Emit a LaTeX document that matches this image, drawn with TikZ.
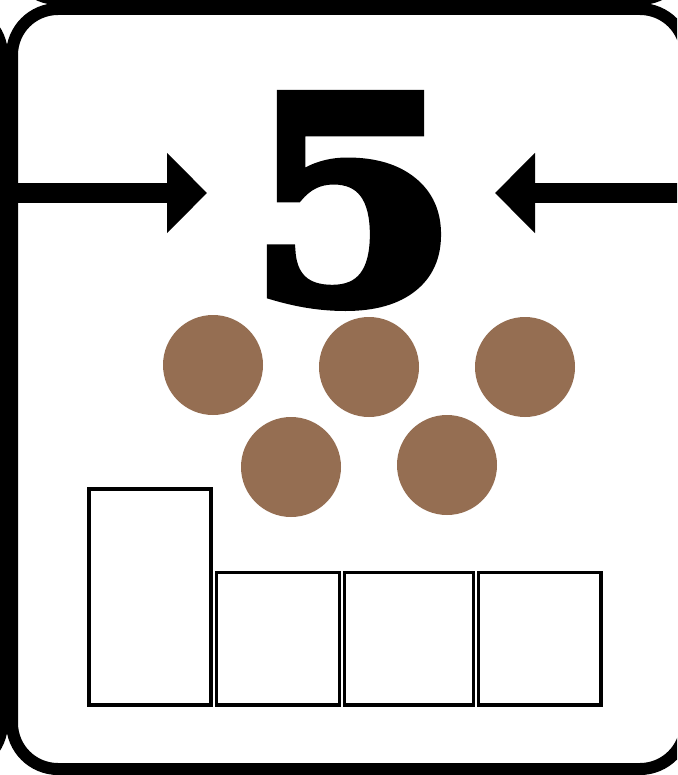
\documentclass[tikz,border=0pt]{standalone}
\usepackage{fontspec}
\usepackage{tikz}
\usetikzlibrary{arrows.meta}
\newfontfamily\numfont[FakeBold=3.5]{DejaVu Serif Bold}
\definecolor{dotbrown}{RGB}{149,110,82}

\begin{document}
\begin{tikzpicture}[x=1pt,y=-1pt,
frame/.style={draw=black,line width=12pt,rounded corners=46pt},
counter/.style={circle,fill=dotbrown,minimum size=100pt,inner sep=0pt},
cell/.style={draw=black,line width=3.5pt,inner sep=0pt,fill=white},
pointer/.style={line width=20pt,-{Triangle[length=40pt,width=78pt]}}]
\useasboundingbox (0,0) rectangle (677,775);
\clip (0,0) rectangle (677,775);
\fill[white] (0,0) rectangle (677,775);
% neighbouring cards
\draw[frame] (-682,9) rectangle (2,769);
\draw[frame] (12,-761) rectangle (686,-1);
% the card
\draw[frame] (12,9) rectangle (686,769);
% number and arrows
\node[anchor=base,inner sep=0pt,xscale=1.07] (five) at (353,302)
  {\numfont\fontsize{284}{284}\selectfont 5};
\coordinate (lstart) at (10,193);
\coordinate (ltip) at (207,193);
\coordinate (rstart) at (690,193);
\coordinate (rtip) at (495,193);
\draw[pointer] (lstart) -- (ltip);
\draw[pointer] (rstart) -- (rtip);
% counters
\node[counter] (c1) at (213,365) {};
\node[counter] (c2) at (369,367) {};
\node[counter] (c3) at (525,367) {};
\node[counter] (c4) at (291,467) {};
\node[counter] (c5) at (447,465) {};
% cells
\node[cell,minimum width=122pt,minimum height=216pt] (tall) at (150,597) {};
\node[cell,minimum width=123pt,minimum height=132.5pt] (s1) at (278,638.75) {};
\node[cell,minimum width=129pt,minimum height=132.5pt] (s2) at (409,638.75) {};
\node[cell,minimum width=122.5pt,minimum height=132.5pt] (s3) at (539.75,638.75) {};
\end{tikzpicture}
\end{document}
